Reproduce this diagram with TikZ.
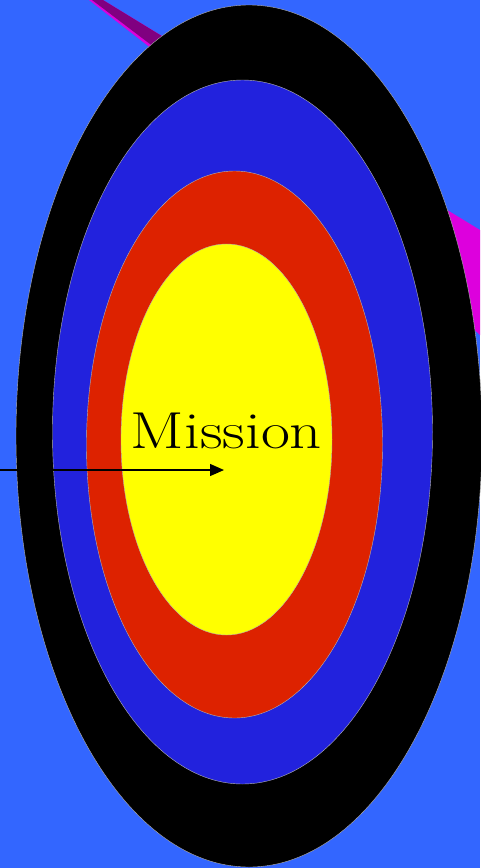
\documentclass[tikz,border=0pt]{standalone}
\usetikzlibrary{arrows.meta}
\definecolor{SkyClr}{RGB}{51,102,255}
\definecolor{BandClr}{RGB}{221,0,221}
\definecolor{BandTopClr}{RGB}{128,0,128}
\definecolor{RingBlue}{RGB}{34,34,221}
\definecolor{RingRed}{RGB}{221,34,0}
\definecolor{RingYellow}{RGB}{255,255,0}

\begin{document}
\begin{tikzpicture}[x=1pt,y=-1pt,
  ring/.style={draw=gray!60,line width=.4pt},
  shaft/.style={line width=1.3pt,-{Triangle[length=14pt,width=12pt]}}]
\useasboundingbox (0,0) rectangle (480,868);
\fill[SkyClr] (0,0) rectangle (480,868);

% band behind the target
\fill[BandClr] (89,0) -- (103,0) -- (480,230) -- (480,335) -- (250,125) -- cycle;
\fill[BandTopClr] (92,0) -- (103,0) -- (250,90) -- (250,120) -- cycle;

% rings
\filldraw[ring,fill=black] (249,436) ellipse [x radius=233,y radius=431];
\filldraw[ring,fill=RingBlue] (242.5,432) ellipse [x radius=190,y radius=352];
\filldraw[ring,fill=RingRed] (234.5,444.5) ellipse [x radius=148,y radius=273.5];
\filldraw[ring,fill=RingYellow] (226.5,439.5) ellipse [x radius=105.5,y radius=195.5];

\node[anchor=base,inner sep=0pt,font=\fontsize{52}{52}\selectfont] (mission) at (226.5,448)
  {\scalebox{1.21}[1]{Mission}};

\coordinate (tail) at (0,470);
\coordinate (tip) at (224,470);
\draw[shaft] (tail) -- (tip);

\end{tikzpicture}
\end{document}
